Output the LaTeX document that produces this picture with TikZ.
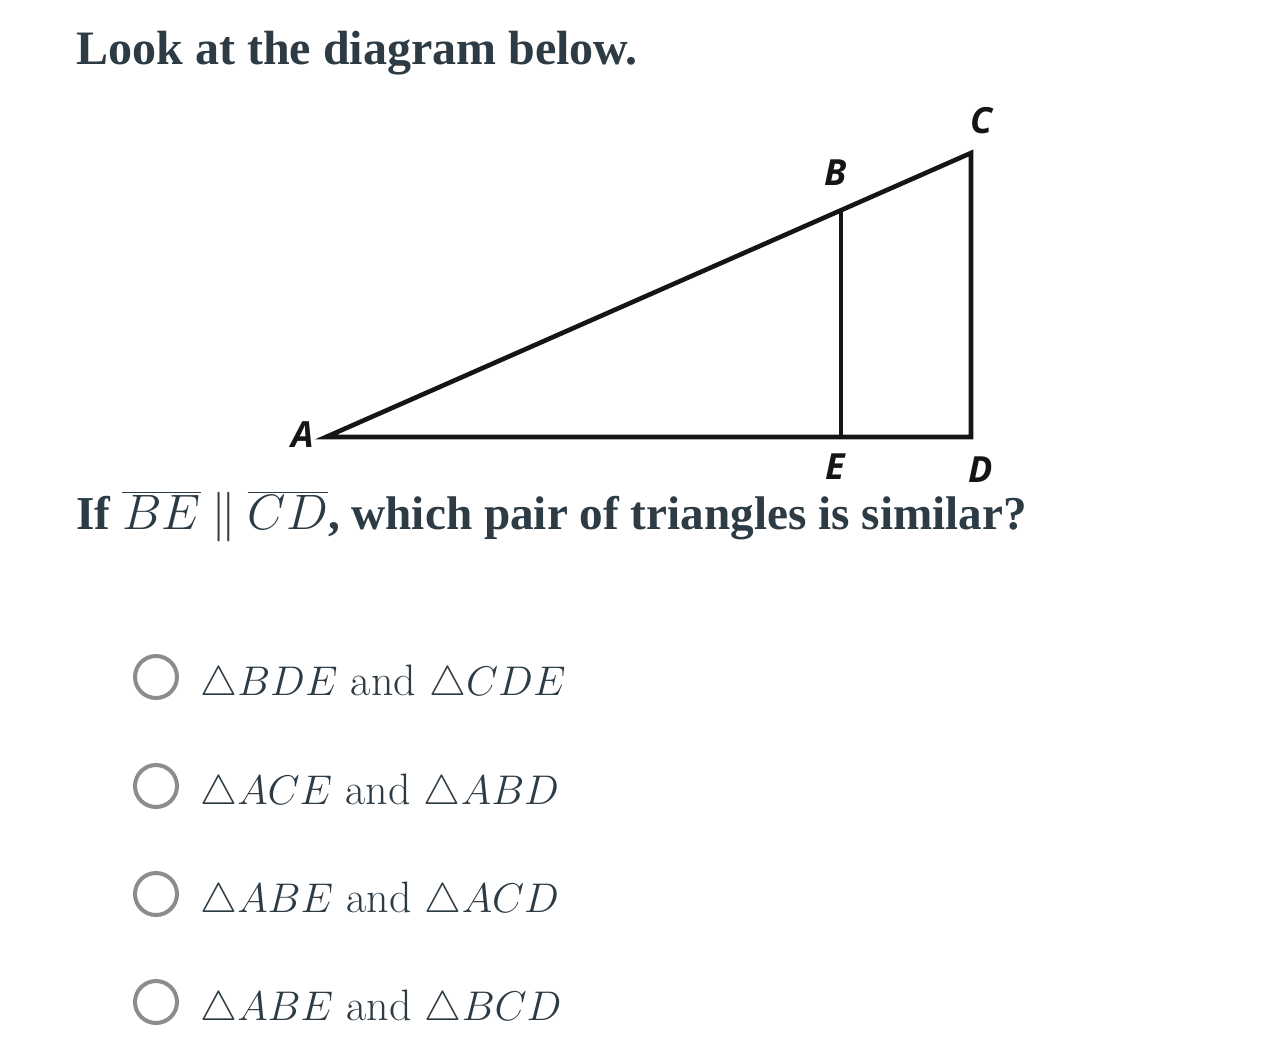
\documentclass[tikz,border=0pt]{standalone}
\usepackage{fontspec}
\newfontfamily\headfont{Liberation Serif}
\newfontfamily\lblfont{Open Sans}
\usepackage{xcolor}
\definecolor{ink}{HTML}{2D3B45}
\definecolor{radio}{HTML}{8C8C8C}
\definecolor{geo}{HTML}{151515}
\begin{document}
\begin{tikzpicture}[x=0.5pt,y=-0.5pt,
  head/.style={anchor=base west,inner sep=0pt,text=ink,font=\headfont\bfseries\fontsize{24}{29}\selectfont},
  lbl/.style={inner sep=0pt,text=geo,font=\lblfont\bfseries\itshape\fontsize{18}{21}\selectfont},
  edge/.style={draw=geo,line width=2.3pt,line join=miter},
  radiobtn/.style={circle,draw=radio,line width=2pt,minimum size=21pt,inner sep=0pt},
  opt/.style={anchor=base west,inner sep=0pt,text=ink,font=\fontsize{22}{26}\selectfont}]
\useasboundingbox (0,0) rectangle (1284,1050);
\fill[white] (0,0) rectangle (1284,1050);
\node[head] (title) at (76,64) {Look at the diagram below.};
% geometry
\coordinate (A) at (326,437);
\coordinate (B) at (841,210);
\coordinate (C) at (971,153);
\coordinate (D) at (971,437);
\coordinate (E) at (841,437);
\draw[edge] (A) -- (C) -- (D) -- cycle;
\draw[edge] (B) -- (E);
\node[lbl] (lA) at (303,435) {A};
\node[lbl] (lB) at (836,173) {B};
\node[lbl] (lC) at (981,121) {C};
\node[lbl] (lE) at (835,467) {E};
\node[lbl] (lD) at (981,470) {D};
\node[head,font=\headfont\bfseries\fontsize{23.6}{29}\selectfont] (q) at (76,529) {If $\thickmuskip=4mu\overline{BE}\parallel\overline{CD}$, which pair of triangles is similar?};
% options
\node[radiobtn] (r1) at (156,677) {};
\node[radiobtn] (r2) at (156,786) {};
\node[radiobtn] (r3) at (156,894) {};
\node[radiobtn] (r4) at (156,1002) {};
\node[opt] (o1) at (200,695) {$\triangle BDE$ and $\triangle CDE$};
\node[opt] (o2) at (200,804) {$\triangle ACE$ and $\triangle ABD$};
\node[opt] (o3) at (200,912) {$\triangle ABE$ and $\triangle ACD$};
\node[opt] (o4) at (200,1020) {$\triangle ABE$ and $\triangle BCD$};
\end{tikzpicture}
\end{document}
